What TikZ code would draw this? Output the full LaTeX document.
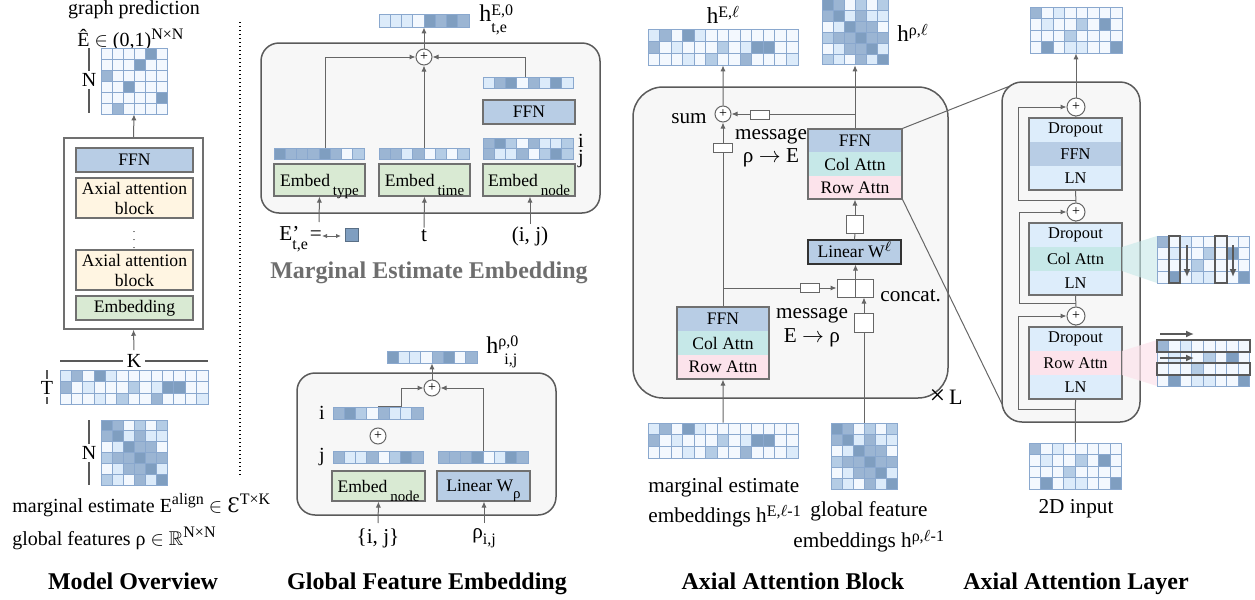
\documentclass[tikz,border=0pt]{standalone}
\usepackage{amssymb}
\usepackage{fontspec}
\setmainfont{Liberation Serif}
\newfontfamily\djs{DejaVu Serif}
\usetikzlibrary{arrows.meta,fit,calc}
\definecolor{c0}{HTML}{F3F8FE}
\definecolor{c1}{HTML}{DCEBFA}
\definecolor{c2}{HTML}{B4CCE5}
\definecolor{c3}{HTML}{9BB5D3}
\definecolor{c4}{HTML}{7F9EC0}
\definecolor{gridc}{HTML}{8AA8CE}
\definecolor{boxg}{HTML}{707070}
\definecolor{ffnc}{HTML}{B8CDE5}
\definecolor{embc}{HTML}{D9EAD3}
\definecolor{axc}{HTML}{FFF5E2}
\definecolor{colc}{HTML}{C6E8E8}
\definecolor{rowc}{HTML}{FCE3EB}
\definecolor{lnc}{HTML}{DDEDFB}
\definecolor{contf}{HTML}{F7F7F7}
\definecolor{contd}{HTML}{5A5A5A}
\definecolor{linec}{HTML}{666666}
\definecolor{titleg}{HTML}{6E6E6E}
\newcommand\fa{\fontsize{10}{11}\selectfont}
\newcommand\fb{\fontsize{8.8}{10}\selectfont}
\newcommand\fc{\fontsize{10.6}{12}\selectfont}
\newcommand\fd{\fontsize{8.2}{9}\selectfont}
\newcommand\ft{\fontsize{12}{14}\selectfont\bfseries}
\newcommand\mysup[2][3.8pt]{\raisebox{#1}{\fontsize{8}{8}\selectfont #2}}
\newcommand\mysub[2][-2.5pt]{\raisebox{#1}{\fontsize{8}{8}\selectfont #2}}
\newcommand\zsup[2][3pt]{\raisebox{#1}[0pt][0pt]{\fontsize{7.5}{7.5}\selectfont #2}}
\newcommand\zsub[2][-4.5pt]{\raisebox{#1}[0pt][0pt]{\fontsize{7.5}{7.5}\selectfont #2}}
\newcommand\hsupsub[2]{\makebox[0pt][l]{\raisebox{3.2pt}{\fontsize{8}{8}\selectfont #1}}\raisebox{-5.6pt}{\fontsize{8}{8}\selectfont #2}}
\newcommand\cellgrid[8]{%
  \foreach \rw [count=\ri from 0] in {#8} {
    \foreach \v [count=\ci from 0] in \rw {
      \path[fill=c\v, draw=gridc, line width=0.5pt] ({#2+\ci*#4},{#3+\ri*#5}) rectangle ++(#4,#5);
    }
  }
  \node[inner sep=0pt, fit={(#2,#3) ({#2+#6*#4},{#3+#7*#5})}] (#1) {};
}
\newcommand\boxn[7]{%
  \node[#6, inner sep=0pt, fit={(#2,#3)(#4,#5)}] (#1) {};
  \node[#6, draw=none, fill=none, inner sep=0pt] (#1-t) at (#1.center) {#7};
}
\tikzset{
  bx/.style={draw=boxg, line width=0.6pt, font=\fb},
  cont/.style={draw=contd, fill=contf, line width=0.75pt},
  conn/.style={draw=linec, line width=0.5pt},
  arr/.style={conn, -{Latex[length=3pt,width=2.6pt]}},
  pl/.style={circle, draw=linec, fill=white, line width=0.5pt, minimum size=8pt, inner sep=0pt, font=\fontsize{7}{7}\selectfont},
  msg/.style={draw=linec, fill=white, line width=0.5pt, inner sep=0pt, minimum width=9.5pt, minimum height=4.5pt},
  lbl/.style={font=\fa, inner sep=1pt},
  brk/.style={draw=black!65, line width=0.6pt},
  ttl/.style={font=\ft, anchor=base},
  illarr/.style={draw=black!65, line width=0.9pt, -{Latex[length=4pt,width=3.5pt]}},
  illbox/.style={draw=black!65, line width=0.9pt},
}
\begin{document}
\begin{tikzpicture}[x=0.5pt,y=-0.5pt]
\useasboundingbox (0,0) rectangle (1255,600);

%% ================= Model overview
\node[lbl] (gp) at (134,10) {graph prediction};
\node[lbl, anchor=west] (ehl) at (75,40) {Ê $\in$ (0,1)\mysup{N×N}};
\cellgrid{ehat}{101}{48}{11}{11}{6}{6}{{0,0,0,0,4,0},{0,0,0,4,0,0},{3,0,0,0,0,0},{0,0,4,0,0,0},{0,0,0,0,0,4},{0,3,0,0,0,0}}
\draw[brk] (89,48) -- (89,113);
\node[lbl, fill=white] (nl1) at (89,80) {N};

\node[draw=boxg, line width=0.75pt, inner sep=0pt, fit={(64,138)(203,329)}] (ovbox) {};
\boxn{offn}{76}{148}{193}{172}{bx, fill=ffnc}{FFN}
\boxn{oax1}{76}{178}{193}{218}{bx, fill=axc, align=center}{Axial attention\\block}
\node[inner sep=0pt] (odots) at (134,234) {\fontsize{5}{5}\selectfont$\vdots$};
\boxn{oax2}{76}{250}{193}{290}{bx, fill=axc, align=center}{Axial attention\\block}
\boxn{oemb}{76}{296}{193}{320}{bx, fill=embc}{Embedding}
\draw[arr] (ovbox.north) -- (ehat.south);

\draw[brk] (60,361) -- (208,361);
\node[lbl, fill=white, inner sep=2pt] (klab) at (134,361) {K};
\draw[arr] (klab.north) -- (ovbox.south);
\cellgrid{tk}{60}{370}{11.385}{11.5}{13}{3}{{1,3,0,4,1,0,0,0,0,0,0,0,0},{3,0,1,0,0,0,2,0,1,4,4,0,0},{0,0,0,1,0,2,0,0,3,0,0,0,1}}
\draw[brk] (47,370) -- (47,404);
\node[lbl, fill=white] (tlab0) at (47,388) {T};
\cellgrid{nn}{101}{420}{11}{10.9}{6}{6}{{4,3,0,2,0,2},{3,4,1,3,1,1},{0,1,4,3,3,0},{2,3,3,4,3,3},{0,1,3,3,4,1},{2,1,0,3,1,4}}
\draw[brk] (89,420) -- (89,485);
\node[lbl, fill=white] (nl2) at (89,453) {N};

\node[lbl, anchor=base west] (me) at (10,512) {marginal estimate E\mysup{align} $\in$ {\djs Ɛ}\mysup{T×K}};
\node[lbl, anchor=base west] (gf) at (10,545) {global features ρ $\in$ $\mathbb{R}$\mysup{N×N}};
\node[ttl] (t1) at (133,589) {Model Overview};

\draw[black, line width=0.6pt, dash pattern=on 0.6pt off 1.4pt] (240,22) -- (240,476);

%% ================= Marginal estimate embedding
\node[cont, rounded corners=9pt, inner sep=0pt, fit={(261,43)(600,213)}] (mcont) {};
\cellgrid{hE0}{379}{14}{11.25}{13}{8}{1}{{1,1,1,0,4,3,4,3}}
\node[anchor=west, inner sep=0pt] (hE0l) at (479,20) {\fontsize{12}{12}\selectfont h\hsupsub{E,0}{t,e}};
\node[pl] (mplus) at (424,57) {+};
\cellgrid{tvec}{274}{148}{11.25}{11}{8}{1}{{4,3,3,3,4,3,0,2}}
\boxn{etype}{274}{164}{365}{196}{bx, fill=embc}{Embed\,\zsub{type}}
\cellgrid{tivec}{379}{148}{11.25}{11}{8}{1}{{3,3,1,3,0,2,0,2}}
\boxn{etime}{379}{164}{470}{196}{bx, fill=embc}{Embed\,\zsub{time}}
\cellgrid{nvec}{483}{138}{11.25}{10.5}{8}{2}{{3,4,2,0,3,1,1,2},{3,1,1,3,0,2,4,2}}
\node[font=\fa, inner sep=0pt] (nvi) at (581,141) {i};
\node[font=\fa, inner sep=0pt] (nvj) at (581,159) {j};
\boxn{enode}{483}{164}{575}{196}{bx, fill=embc}{Embed\,\zsub{node}}
\boxn{mffn}{483}{100}{575}{124}{bx, fill=ffnc}{FFN}
\cellgrid{fvec}{483}{77}{11.25}{11}{8}{1}{{1,3,4,0,3,1,4,1}}
\draw[arr] ([xshift=3pt]tvec.north) |- (mplus.west);
\draw[arr] (tivec.north) -- (mplus.south);
\draw[arr] ([xshift=-1.5pt]fvec.north) |- (mplus.east);
\draw[arr] (mplus.north) -- (hE0.south);

\node[anchor=base west, inner sep=0pt] (elab) at (279,240) {\fc E\makebox[0pt][l]{'}\mysub[-4.5pt]{t,e}\hspace{1pt}=};
\coordinate (da1) at (322,236);
\coordinate (da2) at (341,236);
\draw[conn, {Latex[length=2.5pt,width=2.2pt]}-{Latex[length=2.5pt,width=2.2pt]}] (da1) -- (da2);
\node[draw=c4!70!black, line width=0.5pt, fill=c4, minimum size=6.5pt, inner sep=0pt] (sqE) at (352,235) {};
\coordinate (in1) at (319,222);
\draw[arr] (in1) -- (etype.south);
\node[lbl, font=\fc] (tlab) at (424,236) {t};
\draw[arr] (tlab.north) -- (etime.south);
\node[lbl, font=\fc] (ijlab) at (530,236) {(i, j)};
\draw[arr] (ijlab.north) -- (ijlab.north |- enode.south);
\node[ttl, text=titleg] (t2) at (429,278) {Marginal Estimate Embedding};

%% ================= Global feature embedding
\node[cont, rounded corners=9pt, inner sep=0pt, fit={(297,373)(556,515)}] (gcont) {};
\cellgrid{hr0}{387}{351}{11.25}{12}{8}{1}{{4,1,1,0,3,4,0,3}}
\node[anchor=west, inner sep=0pt] (hr0l) at (486,352) {\fontsize{12}{12}\selectfont h\hsupsub{ρ,0}{\hspace{3pt}i,j}};
\node[pl] (gplus) at (432,388) {+};
\cellgrid{ivec}{333}{407}{11.25}{12}{8}{1}{{3,4,2,0,3,1,1,3}}
\node[lbl] (ilab) at (322,413) {i};
\node[pl] (splus) at (378,436) {+};
\cellgrid{jvec}{333}{451}{11.25}{12}{8}{1}{{3,1,1,3,0,2,4,3}}
\node[lbl] (jlab) at (322,457) {j};
\boxn{gnode}{332}{471}{425}{501}{bx, fill=embc}{Embed\,\zsub{node}}
\cellgrid{rvec}{438}{451}{11.25}{12}{8}{1}{{3,3,3,4,0,1,4,3}}
\boxn{glin}{437}{471}{530}{501}{bx, fill=ffnc}{Linear W\zsub[-3.5pt]{ρ}}
\draw[arr] (ivec.north) -- ++(23,0) |- (gplus.west);
\draw[arr] (rvec.north) |- (gplus.east);
\draw[arr] (gplus.north) -- (hr0.south);
\node[lbl, font=\fc] (ijset) at (378,538) {\{i, j\}};
\coordinate (in4) at (378,523);
\draw[arr] (in4) -- (gnode.south);
\node[lbl, font=\fc] (rhoij) at (484,538) {ρ\mysub[-3pt]{i,j}};
\coordinate (in5) at (484,523);
\draw[arr] (in5) -- (in5 |- glin.south);
\node[ttl] (t3) at (427,589) {Global Feature Embedding};

%% ================= Axial attention block
\node[cont, rounded corners=15pt, inner sep=0pt, fit={(633,87)(948,398)}] (acont) {};
\cellgrid{aEt}{648}{29}{11.54}{12}{13}{3}{{1,3,0,4,1,0,0,0,0,0,0,0,0},{3,0,1,0,0,0,2,0,1,4,4,0,0},{0,0,0,1,0,2,0,0,3,0,0,0,1}}
\node[inner sep=0pt] (hEl) at (723,15) {\fontsize{11.5}{12}\selectfont h\mysup[2.6pt]{E,$\ell$}};
\cellgrid{aRt}{822}{-0.5}{11}{10.9}{6}{6}{{4,3,0,2,0,2},{3,4,1,3,1,1},{0,1,4,3,3,0},{2,3,3,4,3,3},{0,1,3,3,4,1},{2,1,0,3,1,4}}
\node[inner sep=0pt, anchor=west] (hrl) at (897,33) {\fontsize{11.5}{12}\selectfont h\mysup[2.6pt]{ρ,$\ell$}};
\node[pl] (sum) at (723,114) {+};
\node[font=\fc, inner sep=0pt] (sumlab) at (689,119) {sum};
\boxn{rffn}{808}{129}{902}{152.3}{fill=ffnc, font=\fb}{FFN}
\boxn{rcol}{808}{152.3}{902}{175.7}{fill=colc, font=\fb}{Col Attn}
\boxn{rrow}{808}{175.7}{902}{199}{fill=rowc, font=\fb}{Row Attn}
\node[draw=boxg, line width=0.6pt, inner sep=0pt, fit={(808,129)(902,199)}] (rstack) {};
\boxn{lffn}{677}{307}{769}{331}{fill=ffnc, font=\fb}{FFN}
\boxn{lcol}{677}{331}{769}{355}{fill=colc, font=\fb}{Col Attn}
\boxn{lrow}{677}{355}{769}{379}{fill=rowc, font=\fb}{Row Attn}
\node[draw=boxg, line width=0.6pt, inner sep=0pt, fit={(677,307)(769,379)}] (lstack) {};
\draw[arr] (rstack.north) -- (aRt.south);
\draw[arr] (rstack.north |- sum) -- (sum.east);
\node[msg] (m1) at (760,114.5) {};
\draw[arr] (lstack.north) -- (sum.south);
\node[msg] (m2) at (722.5,147.5) {};
\draw[arr] (sum.north) -- (aEt.south);
\node[font=\fc, inner sep=0pt] (msg1) at (771,136) {message};
\node[font=\fc, inner sep=0pt] (msg1b) at (771,158) {ρ $\rightarrow$ E};
\node[msg, minimum width=8.5pt, minimum height=9pt] (sq1) at (855,224) {};
\draw[arr] (sq1.north) -- (rstack.south);
\boxn{lin}{808}{240}{901}{264}{bx, draw=black!80, fill=ffnc}{Linear W\zsup{$\ell$}}
\draw[conn] (lin.north) -- (sq1.south);
\node[msg, minimum width=9pt, minimum height=9pt] (ccL) at (846,288) {};
\node[msg, minimum width=9pt, minimum height=9pt] (ccR) at (864,288) {};
\draw[arr] (ccL.north east) -- (ccL.north east |- lin.south);
\draw[arr] (lstack.north |- ccL) -- (ccL.west);
\node[msg] (m3) at (809.5,287.5) {};
\node[font=\fc, inner sep=0pt, anchor=west] (cclab) at (880,296) {concat.};
\cellgrid{aEb}{648}{423}{11.54}{11.7}{13}{3}{{1,3,0,4,1,0,0,0,0,0,0,0,0},{3,0,1,0,0,0,2,0,1,4,4,0,0},{0,0,0,1,0,2,0,0,3,0,0,0,1}}
\cellgrid{aRb}{831}{423}{11}{11}{6}{6}{{4,3,0,2,0,2},{3,4,1,3,1,1},{0,1,4,3,3,0},{2,3,3,4,3,3},{0,1,3,3,4,1},{2,1,0,3,1,4}}
\draw[arr] (aRb.north) -- (ccR.south);
\node[msg, minimum width=9.5pt, minimum height=9.5pt] (m4) at (863.5,322.5) {};
\node[font=\fc, inner sep=0pt] (msg2) at (812,315) {message};
\node[font=\fc, inner sep=0pt] (msg2b) at (812,338) {E $\rightarrow$ ρ};
\draw[arr] (aEb.north) -- (lstack.south);
\node[inner sep=0pt] (xl) at (946,397) {\fontsize{14}{14}\selectfont ×\fontsize{11}{11}\selectfont\,L};
\node[font=\fc, anchor=base west, inner sep=0pt] (mee1) at (648,492) {marginal estimate};
\node[font=\fc, anchor=base west, inner sep=0pt] (mee2) at (648,522) {embeddings h\mysup[3pt]{E,$\ell$-1}};
\node[font=\fc, anchor=base west, inner sep=0pt] (gfe1) at (810,516) {global feature};
\node[font=\fc, anchor=base west, inner sep=0pt] (gfe2) at (793,547) {embeddings h\mysup[3pt]{ρ,$\ell$-1}};
\node[ttl] (t4) at (793,589) {Axial Attention Block};

%% ================= Axial attention layer
\coordinate (lc1) at (1010,86);
\coordinate (lc2) at (1002,404);
\draw[conn] (rstack.north east) -- (lc1);
\draw[conn] (rstack.south east) -- (lc2);
\node[cont, rounded corners=10pt, inner sep=0pt, fit={(1002,82)(1140,422)}] (lcont) {};
\cellgrid{ltop}{1030}{7}{11.5}{11.5}{8}{4}{{3,0,1,0,0,0,0,0},{0,1,0,0,2,0,4,0},{0,0,0,2,0,0,0,0},{0,4,0,1,1,0,0,4}}
\node[pl, minimum size=9pt] (lp1) at (1076,107) {+};
\boxn{b1a}{1029}{118}{1122}{142}{fill=lnc, font=\fd}{Dropout}
\boxn{b1b}{1029}{142}{1122}{166}{fill=ffnc, font=\fd}{FFN}
\boxn{b1c}{1029}{166}{1122}{190}{fill=lnc, font=\fd}{LN}
\node[draw=boxg, line width=0.6pt, inner sep=0pt, fit={(1029,118)(1122,190)}] (blk1) {};
\node[pl, minimum size=9pt] (lp2) at (1076,212) {+};
\boxn{b2a}{1029}{223}{1122}{247}{fill=lnc, font=\fd}{Dropout}
\boxn{b2b}{1029}{247}{1122}{271}{fill=colc, font=\fd}{Col Attn}
\boxn{b2c}{1029}{271}{1122}{295}{fill=lnc, font=\fd}{LN}
\node[draw=boxg, line width=0.6pt, inner sep=0pt, fit={(1029,223)(1122,295)}] (blk2) {};
\node[pl, minimum size=9pt] (lp3) at (1076,316) {+};
\boxn{b3a}{1029}{327}{1122}{351}{fill=lnc, font=\fd}{Dropout}
\boxn{b3b}{1029}{351}{1122}{375}{fill=rowc, font=\fd}{Row Attn}
\boxn{b3c}{1029}{375}{1122}{399}{fill=lnc, font=\fd}{LN}
\node[draw=boxg, line width=0.6pt, inner sep=0pt, fit={(1029,327)(1122,399)}] (blk3) {};
\cellgrid{lin2d}{1029}{443}{11.6}{11.5}{8}{4}{{3,0,1,0,0,0,0,0},{0,1,0,0,2,0,4,0},{0,0,0,2,0,0,0,0},{0,4,0,1,1,0,0,4}}
\node[font=\fc, inner sep=0pt] (l2dlab) at (1076,509) {2D input};
\draw[arr] (lp1.north) -- (ltop.south);
\draw[conn] (blk1.north) -- (lp1.south);
\draw[conn] (lp2.north) -- (blk1.south);
\draw[conn] (blk2.north) -- (lp2.south);
\draw[conn] (lp3.north) -- (blk2.south);
\draw[conn] (blk3.north) -- (lp3.south);
\draw[conn] (lin2d.north) -- (blk3.south);
\coordinate (r1s) at (1076,200);
\coordinate (r2s) at (1076,303);
\coordinate (r3s) at (1076,409);
\draw[arr] (r1s) -- (1018,200) -- (1018,107) -- (lp1.west);
\draw[arr] (r2s) -- (1019,303) -- (1019,212) -- (lp2.west);
\draw[arr] (r3s) -- (1018,409) -- (1018,316) -- (lp3.west);

% column attention illustration
\fill[colc, opacity=0.6] (1122,247) -- (1157,236) -- (1157,283) -- (1122,271) -- cycle;
\cellgrid{colill}{1157}{236}{11.6}{11.75}{8}{4}{{3,0,1,0,0,0,0,0},{0,1,0,0,2,0,4,0},{0,0,0,2,0,0,0,0},{0,4,0,1,1,0,0,4}}
\draw[illbox] (1168.6,236) rectangle (1180.2,283);
\draw[illbox] (1215,236) rectangle (1226.6,283);
\draw[illarr] (1187,245) -- (1187,277);
\draw[illarr] (1233,245) -- (1233,277);
% row attention illustration
\fill[rowc, opacity=0.7] (1122,351) -- (1157,340) -- (1157,386) -- (1122,375) -- cycle;
\cellgrid{rowill}{1157}{340}{11.6}{11.6}{8}{4}{{3,0,1,0,0,0,0,0},{0,1,0,0,2,0,4,0},{0,0,0,2,0,0,0,0},{0,4,0,1,1,0,0,4}}
\draw[illbox] (1157,340) rectangle (1250,351.6);
\draw[illbox] (1157,363.2) rectangle (1250,374.8);
\draw[illarr] (1160,334) -- (1194,334);
\draw[illarr] (1160,358) -- (1194,358);
\node[ttl] (t5) at (1076,589) {Axial Attention Layer};
\end{tikzpicture}
\end{document}
